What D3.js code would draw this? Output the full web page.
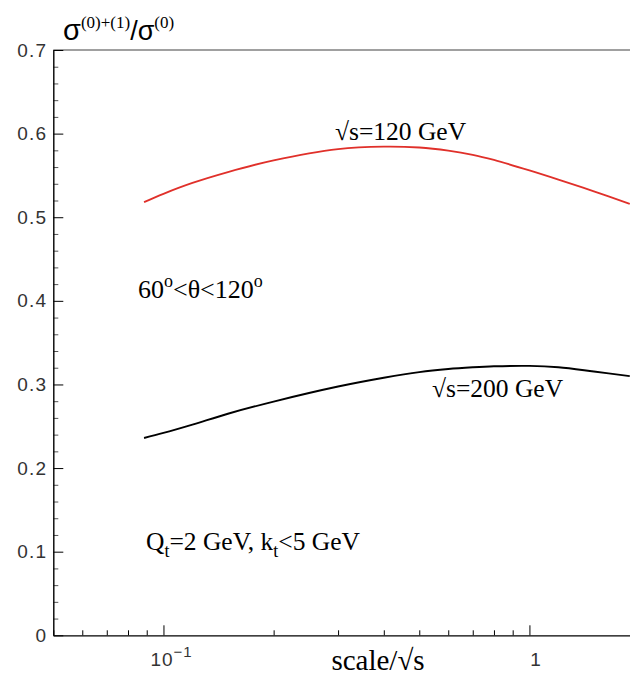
<!DOCTYPE html>
<html lang="en">
  <head>
    <meta charset="utf-8">
    <title>sigma ratio vs scale</title>
    <style>
      body { margin: 0; background: #fff; }
      .tick text { font-family: "Liberation Sans", Arial, sans-serif; }
      .serif { font-family: "Liberation Serif", "Times New Roman", serif; }
    </style>
  </head>
  <body>
    <div class="chart"></div>

    <script src="https://cdn.jsdelivr.net/npm/d3@7"></script>
    <script type="text/javascript">
      // scale / sqrt(s)
      var scaleRatio = [0.0885, 0.1, 0.12, 0.15, 0.2, 0.3, 0.4, 0.5, 0.6, 0.7, 0.8, 1.0, 1.2, 1.5, 1.88];
      // sigma(0)+(1) / sigma(0)
      var ratio120 = [0.518, 0.528, 0.541, 0.554, 0.568, 0.5815, 0.5845, 0.5834, 0.5797, 0.5747, 0.5685, 0.556, 0.545, 0.531, 0.516];
      var ratio200 = [0.236, 0.242, 0.252, 0.265, 0.2795, 0.2975, 0.308, 0.3148, 0.3185, 0.3205, 0.3217, 0.3222, 0.3205, 0.3155, 0.310];

      var yMajor = [0, 0.1, 0.2, 0.3, 0.4, 0.5, 0.6, 0.7];
      var xMajor = [0.1, 1];

      var width = 630, height = 678;

      var svg = d3.select(".chart")
        .append("svg")
          .attr("width", width)
          .attr("height", height);

      var x = d3.scaleLog().domain([0.05, 2]).range([53.3, 639.6]);
      var y = d3.scaleLinear().domain([0, 0.7]).range([635.3, 50]);

      // minor ticks
      var xMinor = x.ticks().filter(function(d) { return xMajor.indexOf(d) < 0; });
      var yMinor = d3.range(0, 0.7, 0.02).filter(function(d) {
        return Math.abs(d * 10 - Math.round(d * 10)) > 1e-6;
      });

      // top frame line
      svg.append("line")
        .attr("x1", x(0.05)).attr("x2", width)
        .attr("y1", y(0.7)).attr("y2", y(0.7))
        .attr("stroke", "#808080")
        .attr("stroke-width", 1.6);

      // y axis
      svg.append("g")
        .attr("transform", "translate(" + x(0.05) + ",0)")
        .call(d3.axisLeft(y).tickValues(yMinor).tickSize(-5).tickFormat(""))
        .call(function(g) { g.select(".domain").remove(); })
        .selectAll("line").attr("stroke", "#555");

      var yAxis = svg.append("g")
        .attr("transform", "translate(" + x(0.05) + ",0)")
        .call(d3.axisLeft(y).tickValues(yMajor).tickSize(-10).tickSizeOuter(0).tickPadding(6)
          .tickFormat(function(d) { return d === 0 ? "0" : d3.format(".1f")(d); }));
      yAxis.select(".domain").attr("stroke-width", 1.4);
      yAxis.selectAll(".tick text")
        .attr("font-size", 19)
        .attr("letter-spacing", 1.2)
        .attr("fill", "#333");

      // x axis
      var xAxis = svg.append("g")
        .attr("transform", "translate(0," + y(0) + ")");
      xAxis.append("g")
        .call(d3.axisBottom(x).tickValues(xMinor).tickSize(-5).tickFormat(""))
        .call(function(g) { g.select(".domain").remove(); });
      xAxis.append("g")
        .call(d3.axisBottom(x).tickValues(xMajor).tickSize(-10).tickSizeOuter(0).tickFormat(""))
        .select(".domain").attr("stroke-width", 1.2);

      // x tick labels
      var lab = svg.append("text")
        .attr("x", x(0.1) - 13)
        .attr("y", 666)
        .attr("font-family", "Liberation Sans, Arial, sans-serif")
        .attr("font-size", 19)
        .attr("letter-spacing", 1)
        .attr("fill", "#333");
      lab.append("tspan").text("10");
      lab.append("tspan").attr("dy", -9).attr("font-size", 15).text("\u22121");

      svg.append("text")
        .attr("x", x(1) + 6)
        .attr("y", 666)
        .attr("text-anchor", "middle")
        .attr("font-family", "Liberation Sans, Arial, sans-serif")
        .attr("font-size", 19)
        .attr("fill", "#333")
        .text("1");

      // curves
      var line = d3.line()
        .x(function(d) { return x(d[0]); })
        .y(function(d) { return y(d[1]); })
        .curve(d3.curveCatmullRom.alpha(0.5));

      svg.append("path")
        .datum(d3.zip(scaleRatio, ratio120))
        .attr("d", line)
        .attr("fill", "none")
        .attr("stroke", "#e0302a")
        .attr("stroke-width", 1.8);

      svg.append("path")
        .datum(d3.zip(scaleRatio, ratio200))
        .attr("d", line)
        .attr("fill", "none")
        .attr("stroke", "#000")
        .attr("stroke-width", 1.9);

      // title
      var title = svg.append("text")
        .attr("x", 63)
        .attr("y", 40)
        .attr("fill", "#000");
      title.append("tspan").attr("font-family", "Liberation Sans, Arial, sans-serif").attr("font-size", 29).text("\u03c3");
      title.append("tspan").attr("class", "serif").attr("font-size", 17).attr("dy", -12).text("(0)+(1)");
      title.append("tspan").attr("font-family", "Liberation Sans, Arial, sans-serif").attr("font-size", 27).attr("dy", 12).text("/\u03c3");
      title.append("tspan").attr("class", "serif").attr("font-size", 17).attr("dy", -12).text("(0)");

      // annotations
      svg.append("text")
        .attr("class", "serif")
        .attr("x", 335).attr("y", 140)
        .attr("font-size", 25.5)
        .text("\u221as=120 GeV");

      svg.append("text")
        .attr("class", "serif")
        .attr("x", 432).attr("y", 397)
        .attr("font-size", 25.5)
        .text("\u221as=200 GeV");

      var theta = svg.append("text")
        .attr("class", "serif")
        .attr("x", 138).attr("y", 298)
        .attr("font-size", 26);
      theta.append("tspan").text("60");
      theta.append("tspan").attr("font-size", 18).attr("dy", -11).text("o");
      theta.append("tspan").attr("dy", 11).text("<\u03b8<120");
      theta.append("tspan").attr("font-size", 18).attr("dy", -11).text("o");

      var qt = svg.append("text")
        .attr("class", "serif")
        .attr("x", 146).attr("y", 550)
        .attr("font-size", 25.5);
      qt.append("tspan").text("Q");
      qt.append("tspan").attr("font-size", 18).attr("dy", 7).text("t");
      qt.append("tspan").attr("dy", -7).text("=2 GeV, k");
      qt.append("tspan").attr("font-size", 18).attr("dy", 7).text("t");
      qt.append("tspan").attr("dy", -7).text("<5 GeV");

      svg.append("text")
        .attr("class", "serif")
        .attr("x", 378).attr("y", 670)
        .attr("text-anchor", "middle")
        .attr("font-size", 29)
        .text("scale/\u221as");
    </script>
  </body>
</html>
